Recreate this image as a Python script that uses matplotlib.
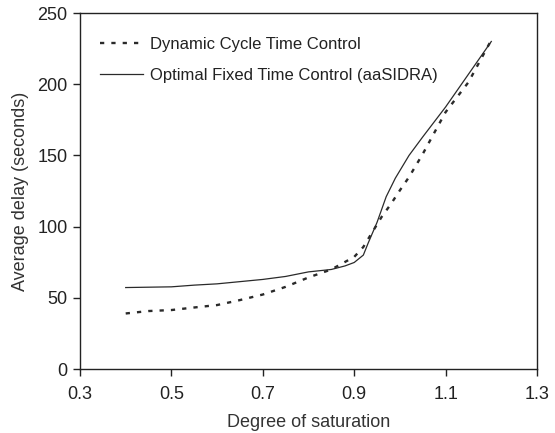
import matplotlib
matplotlib.use("Agg")
import matplotlib.pyplot as plt
import numpy as np

plt.rcParams['font.family'] = ['Liberation Sans', 'DejaVu Sans']

# degree of saturation vs delay
dyn_x = [0.40, 0.45, 0.50, 0.55, 0.60, 0.65, 0.70, 0.75, 0.80, 0.85, 0.88, 0.90,
         0.92, 0.94, 0.96, 0.98, 1.00, 1.02, 1.05, 1.08, 1.10, 1.15, 1.20]
dyn_y = [39, 40.7, 41.4, 43.2, 44.9, 48.4, 52.3, 57.7, 64.3, 69.9, 75.2, 78.7,
         85.7, 96.3, 106.8, 115.7, 125.5, 134.8, 151, 168.7, 180.4, 201.4, 231]

fix_x = [0.40, 0.50, 0.55, 0.60, 0.70, 0.75, 0.80, 0.85, 0.88, 0.90, 0.92,
         0.93, 0.95, 0.97, 0.99, 1.02, 1.05, 1.10, 1.15, 1.20]
fix_y = [57.2, 57.7, 58.9, 59.8, 62.9, 65, 68.2, 69.9, 72.4, 74.8, 80,
         88, 103, 121, 134, 150, 163, 184, 207, 230]

fig = plt.figure(figsize=(5.55, 4.33), dpi=100)
ax = fig.add_axes([80/555, 1-369/433, (537-80)/555, (369-13)/433])

ax.plot(dyn_x, dyn_y, color='#2a2a2a', lw=1.7, linestyle=(0, (1.8, 3.0)),
        label='Dynamic Cycle Time Control')
ax.plot(fix_x, fix_y, color='#2a2a2a', lw=0.9, label='Optimal Fixed Time Control (aaSIDRA)')

ax.set_xlim(0.3, 1.3)
ax.set_ylim(0, 250)
ax.set_xticks(np.arange(0.3, 1.31, 0.2))
ax.set_xticklabels(['0.3', '0.5', '0.7', '0.9', '1.1', '1.3'])
ax.set_yticks(np.arange(0, 251, 50))
ax.tick_params(direction='out', length=5, width=1, labelsize=13, colors='#222222', pad=4)
ax.tick_params(axis='x', pad=7)
for s in ax.spines.values():
    s.set_linewidth(1)
    s.set_color('#222222')

ax.set_xlabel('Degree of saturation', fontsize=13, color='#333333', labelpad=8)
ax.set_ylabel('Average delay (seconds)', fontsize=13, color='#333333', labelpad=6)

ax.legend(loc='upper left', frameon=False, fontsize=12, handlelength=2.6,
          handletextpad=0.4, labelspacing=0.95, bbox_to_anchor=(0.01, 0.975),
          labelcolor='#222222')

fig.savefig('out.png', dpi=100)
